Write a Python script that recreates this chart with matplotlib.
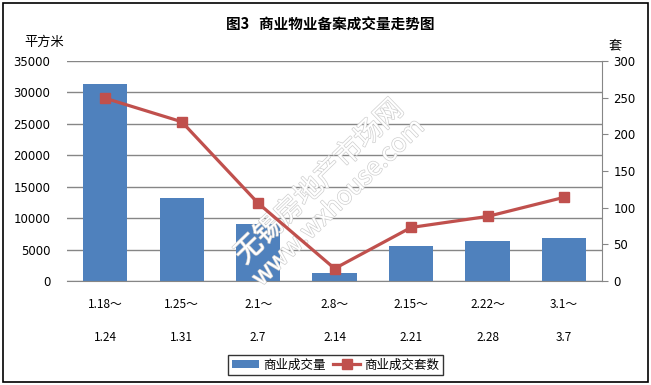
import matplotlib
matplotlib.use("Agg")
import matplotlib.pyplot as plt
import matplotlib.patheffects as pe
from matplotlib.lines import Line2D
from matplotlib.patches import Patch, Rectangle
import matplotlib.transforms as mtransforms

plt.rcParams['font.family'] = ['Noto Sans CJK SC', 'DejaVu Sans']

# data
week_start = ['1.18～', '1.25～', '2.1～', '2.8～', '2.15～', '2.22～', '3.1～']
week_end = ['1.24', '1.31', '2.7', '2.14', '2.21', '2.28', '3.7']
area = [31300, 13200, 9100, 1300, 5600, 6400, 6850]   # 商业成交量, 平方米
units = [249, 217, 106, 17, 73, 88, 114]                # 商业成交套数, 套

bar_color = '#4F81BD'
line_color = '#C0504D'
grid_color = '#868686'

fig = plt.figure(figsize=(6.51, 3.85), dpi=100)
# outer frame, slightly inset like the original
fig.patches.append(Rectangle((3 / 651, 3 / 385), 645 / 651, 379 / 385,
                             transform=fig.transFigure, fill=False,
                             edgecolor='black', linewidth=1.2))

ax = fig.add_axes([0.103, 0.27, 0.822, 0.572])
x = range(len(area))
ax.bar(x, area, width=0.58, color=bar_color, zorder=2)
ax.set_xlim(-0.5, len(area) - 0.5)
ax.set_ylim(0, 35000)
ax.set_yticks(range(0, 35001, 5000))
ax.yaxis.grid(True, color=grid_color, linewidth=1.0, zorder=0)
ax.set_axisbelow(True)
for s in ['top', 'left', 'right']:
    ax.spines[s].set_visible(False)
ax.spines['bottom'].set_color(grid_color)
ax.tick_params(axis='y', length=0, pad=12, labelsize=8.5, labelfontfamily='DejaVu Sans')
ax.tick_params(axis='x', length=0, pad=12, labelsize=8.5)
ax.set_xticks(list(x))
ax.set_xticklabels(week_start)
trans = mtransforms.blended_transform_factory(ax.transData, ax.transAxes)
for i, lab in enumerate(week_end):
    ax.text(i, -0.225, lab, transform=trans, ha='center', va='top', fontsize=8.5)

ax2 = ax.twinx()
ax2.plot(list(x), units, color=line_color, linewidth=2.3, marker='s',
         markersize=7, zorder=3)
ax2.set_ylim(0, 300)
ax2.set_yticks(range(0, 301, 50))
for s in ['top', 'left', 'bottom']:
    ax2.spines[s].set_visible(False)
ax2.spines['right'].set_color(grid_color)
ax2.tick_params(axis='y', direction='out', length=4, color=grid_color,
                labelsize=8.5, pad=4, labelfontfamily='DejaVu Sans')

# watermark (outlined, sits over the bars but under the line)
wm = [pe.Stroke(linewidth=1.0, foreground='#cfcfcf'), pe.Normal()]
ax.text(0.471, 0.45, '无锡房地产市场网', transform=ax.transAxes, rotation=44,
        ha='center', va='center', fontsize=20, color='white',
        zorder=4, path_effects=wm)
ax.text(0.507, 0.355, 'www.wxhouse.com', transform=ax.transAxes, rotation=44,
        ha='center', va='center', fontsize=18, color='white',
        zorder=4, path_effects=wm)

fig.text(0.507, 0.935, '图3   商业物业备案成交量走势图', ha='center', va='center',
         fontsize=10.5, fontweight='bold')
fig.text(0.068, 0.89, '平方米', ha='center', va='center', fontsize=9.5)
fig.text(0.945, 0.88, '套', ha='center', va='center', fontsize=9.5)

handles = [Patch(facecolor=bar_color, edgecolor='none'),
           Line2D([0], [0], color=line_color, linewidth=2.3, marker='s', markersize=7)]
leg = fig.legend(handles, ['商业成交量', '商业成交套数'], loc='center',
                 bbox_to_anchor=(0.515, 0.052), ncol=2, fontsize=9,
                 frameon=True, fancybox=False, handlelength=2.2,
                 handleheight=0.5, columnspacing=0.6, handletextpad=0.3,
                 borderpad=0.3, borderaxespad=0)
leg.get_frame().set_edgecolor('black')
leg.get_frame().set_linewidth(1.0)

fig.savefig('out.png', dpi=100)
